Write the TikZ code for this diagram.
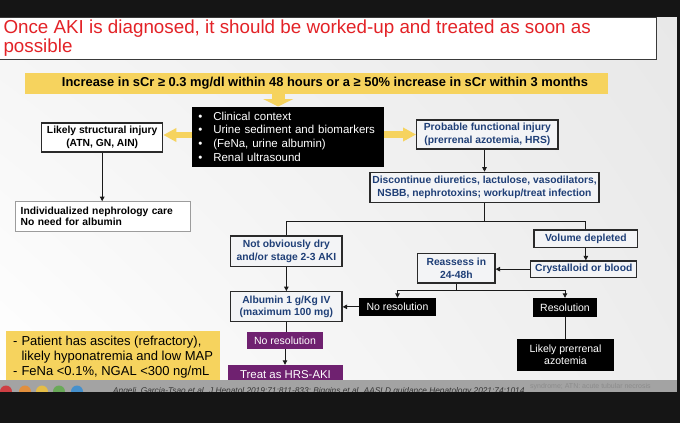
\documentclass[tikz,border=0pt]{standalone}
\usepackage{fontspec}
\setmainfont{Liberation Sans}
\usetikzlibrary{arrows.meta,shadings}
\definecolor{darkbg}{HTML}{151515}
\definecolor{titlered}{HTML}{E32227}
\definecolor{titleframe}{HTML}{3A3A3A}
\definecolor{yel}{HTML}{F6D35E}
\definecolor{navy}{HTML}{1F3F77}
\definecolor{boxfill}{HTML}{F3F4F6}
\definecolor{boxline}{HTML}{2A2A2A}
\definecolor{linec}{HTML}{1A1A1A}
\definecolor{purp}{HTML}{6F2170}
\definecolor{stripc}{HTML}{A3A3A3}
\definecolor{indivline}{HTML}{9C9C9C}
\definecolor{dotred}{HTML}{D9262B}
\definecolor{dotorange}{HTML}{F08A24}
\definecolor{dotyellow}{HTML}{F4C430}
\definecolor{dotgreen}{HTML}{5BAA46}
\definecolor{dotblue}{HTML}{2E8BD6}
\newcommand{\boxfont}{\fontsize{10.3}{12.6}\selectfont\bfseries}
\tikzset{
  conn/.style={draw=linec, line width=0.9pt},
  arr/.style={conn, -{Triangle[length=4.5pt,width=4.5pt]}},
  yarrow/.style={draw=yel, line width=6.3pt, -{Triangle[length=13pt,width=13pt]}},
  navybox/.style={draw=boxline, line width=1.2pt, fill=boxfill, text=navy,
    font=\boxfont, align=center, inner sep=0pt},
  plainbox/.style={draw=boxline, line width=1.2pt, fill=white, text=black,
    font=\boxfont, align=center, inner sep=0pt},
  blackbox/.style={fill=black, text=white, align=center, inner sep=0pt,
    font=\fontsize{10.5}{11.7}\selectfont},
  purplebox/.style={fill=purp, text=white, align=center, inner sep=0pt,
    font=\fontsize{10.5}{11.7}\selectfont},
  sz/.style 2 args={minimum width=#1, minimum height=#2},
}
\begin{document}
\begin{tikzpicture}[x=1pt,y=-1pt]
\useasboundingbox (0,0) rectangle (680,423);
% slide background
\shade[upper left=gray!8, upper right=gray!18, lower left=white, lower right=gray!14]
  (0,17.3) rectangle (677,391.7);
% title
\draw[fill=white, draw=titleframe, line width=1pt] (-2,17.3) rectangle (656,59);
\node[anchor=base west, inner sep=0pt, align=left, text=titlered,
  font=\fontsize{18.8}{17.5}\selectfont] (title) at (3.3,52.5)
  {Once AKI is diagnosed, it should be worked-up and treated as soon as\\possible};
% banner
\node[fill=yel, sz={583pt}{21.3pt}, inner sep=0pt, font=\fontsize{12.9}{14}\selectfont\bfseries]
  (banner) at (316.5,83.35)
  {\hspace*{17pt}Increase in sCr ≥ 0.3 mg/dl within 48 hours or a ≥ 50\% increase in sCr within 3 months};
% central black box
\node[fill=black, text=white, sz={191.7pt}{60pt}, inner xsep=6pt, inner ysep=0pt,
  text width=179.7pt, align=left, font=\fontsize{11.5}{13.7}\selectfont]
  (clin) at (288.15,136.7)
  {\makebox[15pt][l]{\textbullet}Clinical context\\
   \makebox[15pt][l]{\textbullet}Urine sediment and biomarkers\\
   \makebox[15pt][l]{\textbullet}(FeNa, urine albumin)\\
   \makebox[15pt][l]{\textbullet}Renal ultrasound};
% side boxes
\node[plainbox, sz={121pt}{29pt}] (struct) at (102.2,137.5)
  {Likely structural injury\\(ATN, GN, AIN)};
\node[navybox, sz={141.3pt}{29pt}] (func) at (487.35,134.5)
  {Probable functional injury\\(prerrenal azotemia, HRS)};
\node[draw=indivline, line width=1pt, fill=white, sz={175pt}{30pt}, inner xsep=5.7pt,
  inner ysep=0pt, text width=163.6pt, align=left,
  font=\fontsize{10.3}{11}\selectfont\bfseries] (indiv) at (102.5,216.7)
  {Individualized nephrology care\\No need for albumin};
\node[navybox, sz={229pt}{30.4pt}] (disc) at (484.5,187.5)
  {Discontinue diuretics, lactulose, vasodilators,\\NSBB, nephrotoxins; workup/treat infection};
\node[navybox, sz={111.3pt}{30.7pt}] (notdry) at (286.35,251.35)
  {Not obviously dry\\and/or stage 2-3 AKI};
\node[navybox, sz={103.7pt}{17.3pt}] (voldep) at (585.85,238.65) {Volume depleted};
\node[navybox, sz={106pt}{16.3pt}] (cryst) at (583.7,269.15) {Crystalloid or blood};
\node[navybox, sz={77.3pt}{29.7pt}] (reassess) at (456.35,268.15) {Reassess in\\24-48h};
\node[navybox, sz={111.3pt}{30pt}, font=\fontsize{10.3}{11.7}\selectfont\bfseries]
  (albumin) at (286.35,306.7) {Albumin 1 g/Kg IV\\(maximum 100 mg)};
\node[blackbox, sz={77pt}{17.7pt}] (noresA) at (397.5,306.85) {No resolution};
\node[blackbox, sz={64pt}{19pt}] (resol) at (565,307.5) {Resolution};
\node[blackbox, sz={97pt}{31.7pt}] (prerenal) at (565.5,354.85) {Likely prerrenal\\azotemia};
\node[purplebox, sz={76pt}{17pt}] (noresP) at (285,340.5) {No resolution};
\node[purplebox, sz={115pt}{20pt}, font=\fontsize{11.4}{13}\selectfont] (treat) at (285.5,375)
  {Treat as HRS-AKI};
% yellow note
\node[fill=yel, sz={214pt}{52pt}, inner sep=0pt,
  align=left, font=\fontsize{13}{15}\selectfont] (note) at (113,357)
  {\makebox[8.5pt][l]{-}Patient has ascites (refractory),\\
   \hspace*{8.5pt}likely hyponatremia and low MAP\\
   \makebox[8.5pt][l]{-}FeNa <0.1\%, NGAL <300 ng/mL};
% yellow arrows
\draw[draw=yel, line width=13.3pt, -{Triangle[length=7.5pt,width=30pt]}]
  ([xshift=-10pt]clin.north |- banner.south) -- ([xshift=-10pt]clin.north);
\draw[yarrow] ([yshift=1.7pt]clin.west) -- ([yshift=1.7pt]clin.west -| struct.east);
\draw[yarrow] (clin.east |- func.west) -- (func.west);
% connectors
\draw[arr] (struct.south) -- (struct.south |- indiv.north);
\draw[arr] (func.south -| disc.north) -- (disc.north);
\coordinate (j1) at (484.5,221);
\draw[conn] (disc.south) -- (j1);
\draw[conn] (j1) -| (notdry.north);
\draw[conn] (j1) -| (voldep.north);
\draw[arr] (notdry.south) -- (albumin.north);
\draw[arr] (voldep.south) -- (voldep.south |- cryst.north);
\draw[arr] (cryst.west) -- (cryst.west -| reassess.east);
\coordinate (j2) at (456.35,290);
\draw[conn] (reassess.south) -- (j2);
\draw[arr] (j2) -| (noresA.north);
\draw[arr] (j2) -| (resol.north);
\draw[arr] (noresA.west) -- (noresA.west -| albumin.east);
\draw[conn] (albumin.south) -- (albumin.south |- noresP.north);
\draw[arr] (noresP.south) -- (noresP.south |- treat.north);
\draw[conn] (resol.south) -- (resol.south |- prerenal.north);
% bottom strip
\fill[stripc] (0,380) rectangle (677,391.7);
\fill[dotred!80!stripc] (6,391.5) circle[radius=6pt];
\fill[dotorange!80!stripc] (25,391.5) circle[radius=6pt];
\fill[dotyellow!80!stripc] (42,391.5) circle[radius=6pt];
\fill[dotgreen!80!stripc] (59,391.5) circle[radius=6pt];
\fill[dotblue!80!stripc] (77,391.5) circle[radius=6pt];
\node[anchor=base west, inner sep=0pt, text=black!80, font=\fontsize{8.3}{9}\selectfont\itshape]
  (ref) at (113,393.5)
  {Angeli, Garcia-Tsao et al. J Hepatol 2019;71:811-833; Biggins et al. AASLD guidance Hepatology 2021;74:1014};
\node[anchor=base west, inner sep=0pt, text=black!45, font=\fontsize{7}{8}\selectfont]
  (abbr) at (530,388) {syndrome; ATN: acute tubular necrosis};
% dark frame
\fill[darkbg] (0,0) rectangle (680,17.3);
\fill[darkbg] (0,391.7) rectangle (680,423);
\fill[darkbg] (677,0) rectangle (680,423);
\end{tikzpicture}
\end{document}
